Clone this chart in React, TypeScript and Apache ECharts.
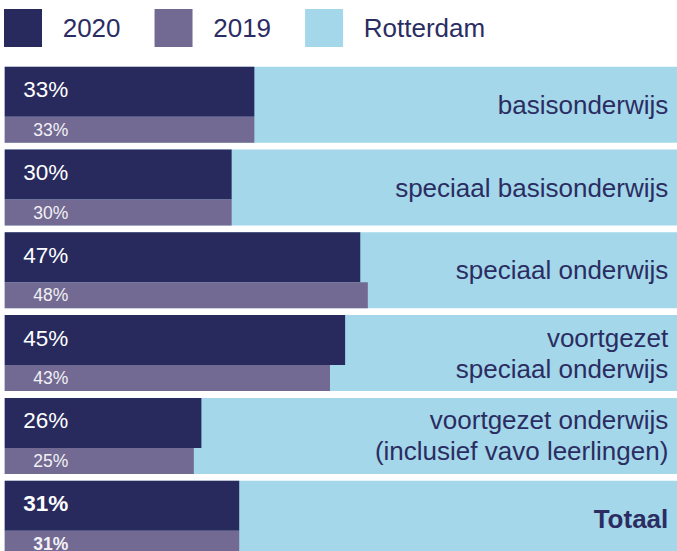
import React, { useEffect, useRef } from "react";
import * as echarts from "echarts";

const categories = [
  "basisonderwijs",
  "speciaal basisonderwijs",
  "speciaal onderwijs",
  "voortgezet\nspeciaal onderwijs",
  "voortgezet onderwijs\n(inclusief vavo leerlingen)",
  "Totaal",
];
const values2020 = [33, 30, 47, 45, 26, 31];
const values2019 = [33, 30, 48, 43, 25, 31];
const valuesRotterdam = [100, 100, 100, 100, 100, 100];
const legendNames = ["2020", "2019", "Rotterdam"];

const NAVY = "#282a5e";
const PURPLE = "#726a92";
const LIGHT = "#a3d7e9";
const TEXT = "#2b2d62";
const FONT = "'Liberation Sans', Arial, sans-serif";

export default function App() {
  const ref = useRef<HTMLDivElement>(null);
  useEffect(() => {
    if (!ref.current) return;
    const chart = echarts.init(ref.current, null, { renderer: "svg" });
    const last = categories.length - 1;
    chart.setOption({
      animation: false,
      textStyle: { fontFamily: FONT },
      legend: {
        data: legendNames,
        left: 4,
        top: 9,
        padding: 0,
        itemWidth: 38,
        itemHeight: 38,
        itemGap: 34,
        icon: "rect",
        selectedMode: false,
        textStyle: {
          fontSize: 26,
          color: TEXT,
          fontFamily: FONT,
          padding: [0, 0, 6, 15.7],
        },
      },
      grid: {
        left: 4.7,
        top: 63.3,
        height: 496.8,
        width: 756.5,
        outerBoundsMode: "none",
        containLabel: false,
      },
      xAxis: {
        type: "value",
        min: 0,
        max: 100,
        show: false,
      },
      yAxis: [
        {
          type: "category",
          inverse: true,
          data: categories.map((c, i) =>
            i === last ? { value: c, textStyle: { fontWeight: "bold" } } : c
          ),
          z: 10,
          axisLine: { show: false },
          axisTick: { show: false },
          splitLine: { show: false },
          axisLabel: {
            margin: -663.6,
            fontSize: 26,
            lineHeight: 31,
            color: TEXT,
            fontFamily: FONT,
            align: "right",
          },
        },
        {
          type: "category",
          inverse: true,
          data: categories,
          show: false,
        },
      ],
      series: [
        {
          name: "Rotterdam",
          type: "bar",
          yAxisIndex: 0,
          barWidth: 76,
          itemStyle: { color: LIGHT },
          data: valuesRotterdam,
          silent: true,
          z: 1,
        },
        {
          name: "2020",
          type: "bar",
          yAxisIndex: 1,
          barWidth: 50,
          barGap: "0%",
          itemStyle: { color: NAVY },
          z: 3,
          label: {
            show: true,
            position: [63.6, "50%"],
            align: "right",
            verticalAlign: "middle",
            offset: [0, -2],
            fontSize: 22.5,
            color: "#ffffff",
            fontFamily: FONT,
            formatter: "{c}%",
          },
          data: values2020.map((v, i) =>
            i === last ? { value: v, label: { fontWeight: "bold" } } : v
          ),
        },
        {
          name: "2019",
          type: "bar",
          yAxisIndex: 1,
          barWidth: 26,
          barGap: "0%",
          itemStyle: { color: PURPLE },
          z: 3,
          label: {
            show: true,
            position: [63.6, "50%"],
            align: "right",
            verticalAlign: "middle",
            fontSize: 17.5,
            color: "#f2f1f6",
            fontFamily: FONT,
            formatter: "{c}%",
          },
          data: values2019.map((v, i) =>
            i === last ? { value: v, label: { fontWeight: "bold" } } : v
          ),
        },
      ],
    });
    return () => chart.dispose();
  }, []);
  return (
    <div
      ref={ref}
      style={{ position: "absolute", left: 0, top: 0, width: 677, height: 551 }}
    />
  );
}
